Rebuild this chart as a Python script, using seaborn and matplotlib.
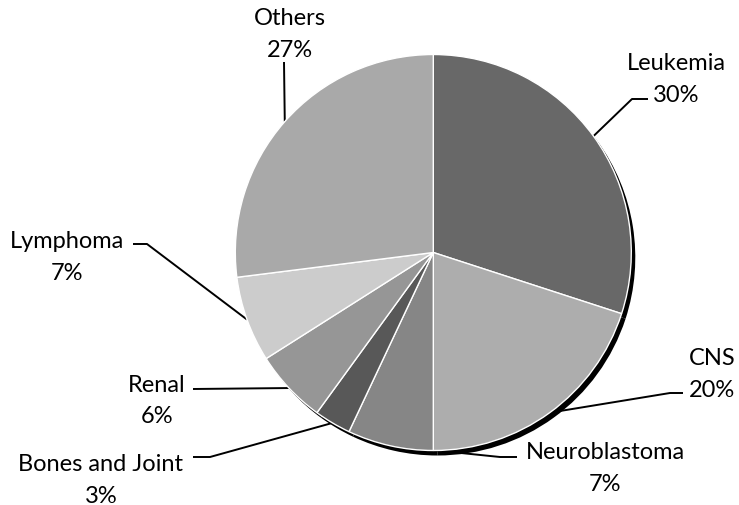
import matplotlib
matplotlib.use("Agg")
import matplotlib.pyplot as plt
import seaborn as sns
import numpy as np

sns.set_style("white")
plt.rcParams['font.family'] = ['Lato', 'DejaVu Sans']

categories = ["Leukemia", "CNS", "Neuroblastoma", "Bones and Joint", "Renal", "Lymphoma", "Others"]
values = [30, 20, 7, 3, 6, 7, 27]
colors = ["#686868", "#adadad", "#868686", "#585858", "#969696", "#cccccc", "#a9a9a9"]

W, H = 739, 506
fig = plt.figure(figsize=(W / 100, H / 100), dpi=100)
ax = fig.add_axes([0, 0, 1, 1])
ax.set_xlim(0, W)
ax.set_ylim(0, H)
ax.set_aspect('equal')
ax.axis('off')

cx, cy, r = 433.3, H - 253.5, 198

# shadow
ax.pie(values, colors=["black"] * len(values), startangle=90, counterclock=False,
       center=(cx + 4, cy - 5), radius=r, wedgeprops=dict(linewidth=0, zorder=2), frame=True)
wedges, _ = ax.pie(values, colors=colors, startangle=90, counterclock=False,
                   center=(cx, cy), radius=r,
                   wedgeprops=dict(edgecolor="white", linewidth=1.0, zorder=3), frame=True)
ax.set_xlim(0, W)
ax.set_ylim(0, H)
ax.axis('off')

# label positions (pixel coords): x centre, name baseline; elbow path
label_pos = {
    "Leukemia": (676, 69.5, [(648, 100), (632, 100)]),
    "CNS": (712, 365, [(683, 394), (670, 394)]),
    "Neuroblastoma": (605, 459.5, [(517, 458), (500, 458)]),
    "Bones and Joint": (101, 471.5, [(193, 458), (210, 458)]),
    "Renal": (157, 391.5, [(193, 390)]),
    "Lymphoma": (67, 247.5, [(133, 245), (147, 245)]),
    "Others": (290, 25, [(284, 63)]),
}

total = sum(values)
cum = 0
for name, v in zip(categories, values):
    mid = (cum + v / 2) / total
    cum += v
    ang = 2 * np.pi * mid
    ex, ey = cx + r * np.sin(ang), cy + r * np.cos(ang)
    x, yb, path = label_pos[name]
    pts = [(px, H - py) for px, py in path] + [(ex, ey)]
    ax.plot([p[0] for p in pts], [p[1] for p in pts], color="black", lw=1.4, zorder=1,
            solid_capstyle='butt')
    ax.text(x, H - yb, name, ha='center', va='baseline', fontsize=17, color="black")
    ax.text(x, H - yb - 32, f"{v}%", ha='center', va='baseline', fontsize=17, color="black")

fig.savefig("out.png", dpi=100)
